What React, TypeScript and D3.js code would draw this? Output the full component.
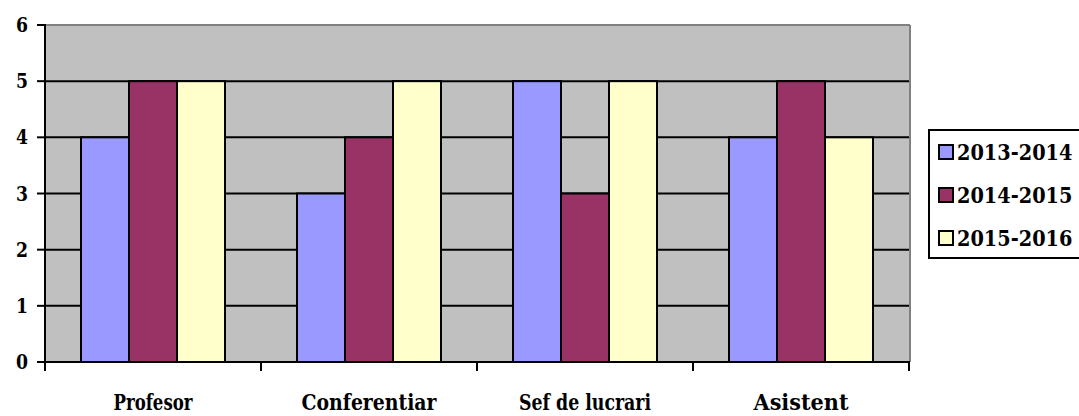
import { scaleBand, scaleLinear } from "d3";

const categories = ["Profesor", "Conferentiar", "Sef de lucrari", "Asistent"];
const categoryWidths = [79, 135, 132, 95];
const seriesNames = ["2013-2014", "2014-2015", "2015-2016"];
const values2013 = [4, 3, 5, 4];
const values2014 = [5, 4, 3, 5];
const values2015 = [5, 5, 5, 4];
const yTicks = [0, 1, 2, 3, 4, 5, 6];

const series = [values2013, values2014, values2015];
const colors = ["#9999ff", "#993366", "#ffffcc"];

const W = 1079;
const H = 416;
const left = 45;
const right = 909;
const top = 25;
const bottom = 362;
const font = "DejaVu Serif, Liberation Serif, serif";

const App = () => {
  const x0 = scaleBand().domain(categories).range([left, right]);
  const x1 = scaleBand()
    .domain(seriesNames)
    .range([0, x0.bandwidth()])
    .paddingInner(0)
    .paddingOuter(0.75);
  const y = scaleLinear().domain([0, 6]).range([bottom, top]);

  return (
    <svg
      width={W}
      height={H}
      style={{ position: "absolute", left: 0, top: 0, background: "#fff", fontFamily: font, fontWeight: 700 }}
    >
      <rect x={left} y={top} width={right - left} height={bottom - top} fill="#c0c0c0" />
      {/* grid */}
      {yTicks.slice(1, -1).map((t) => (
        <line key={t} x1={left} x2={right} y1={y(t)} y2={y(t)} stroke="#000" strokeWidth={2} />
      ))}
      {/* plot border top and right */}
      <line x1={left} x2={right + 1} y1={top} y2={top} stroke="#808080" strokeWidth={2} />
      <line x1={right + 1} x2={right + 1} y1={top} y2={bottom} stroke="#808080" strokeWidth={2} />
      {/* bars */}
      {categories.map((c, i) => (
        <g key={c}>
          {series.map((vals, s) => (
            <rect
              key={s}
              x={x0(c)! + x1(seriesNames[s])!}
              y={y(vals[i])}
              width={x1.bandwidth()}
              height={bottom - y(vals[i])}
              fill={colors[s]}
              stroke="#000"
              strokeWidth={2}
            />
          ))}
        </g>
      ))}
      {/* y axis */}
      <line x1={left} x2={left} y1={top - 1} y2={bottom + 1} stroke="#000" strokeWidth={2} />
      {yTicks.map((t) => (
        <g key={t}>
          <line x1={left - 8} x2={left} y1={y(t)} y2={y(t)} stroke="#000" strokeWidth={2} />
          <text x={28} y={y(t) + 7} textAnchor="end" fontSize={20} textLength={12} lengthAdjust="spacingAndGlyphs">
            {t}
          </text>
        </g>
      ))}
      {/* x axis */}
      <line x1={left - 8} x2={right + 1} y1={bottom} y2={bottom} stroke="#000" strokeWidth={2} />
      {[...categories.map((c) => x0(c)!), right].map((xv, i) => (
        <line key={i} x1={xv} x2={xv} y1={bottom} y2={bottom + 9} stroke="#000" strokeWidth={2} />
      ))}
      {categories.map((c, i) => (
        <text
          key={c}
          x={x0(c)! + x0.bandwidth() / 2 - categoryWidths[i] / 2}
          y={410}
          fontSize={22}
          textLength={categoryWidths[i]}
          lengthAdjust="spacingAndGlyphs"
        >
          {c}
        </text>
      ))}
      {/* legend (box runs past the right edge, as in the original) */}
      <rect x={929} y={130} width={170} height={128} fill="#fff" stroke="#000" strokeWidth={2} />
      {seriesNames.map((n, s) => {
        const cy = 152 + s * 43;
        return (
          <g key={n}>
            <rect x={939} y={cy - 7} width={14} height={14} fill={colors[s]} stroke="#000" strokeWidth={2} />
            <text transform={`translate(957, ${cy + 8}) scale(0.84, 1)`} fontSize={23}>
              {n}
            </text>
          </g>
        );
      })}
    </svg>
  );
};

export default App;
